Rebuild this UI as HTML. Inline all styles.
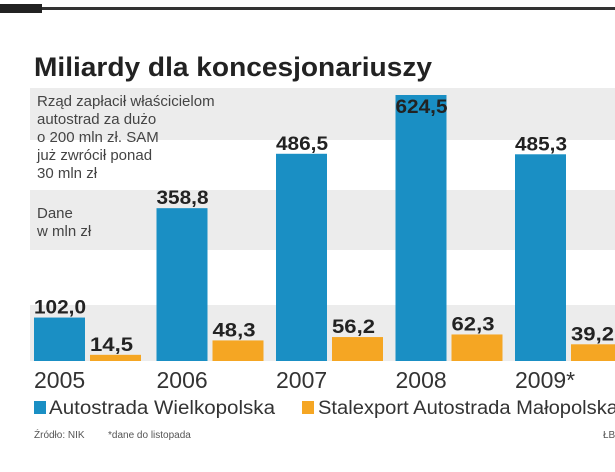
<!DOCTYPE html>
<html><head><meta charset="utf-8"><style>
body{margin:0;background:#fff;width:615px;height:467px;overflow:hidden;font-family:"Liberation Sans",sans-serif}
</style></head><body>
<svg width="615" height="467">
<rect x="0" y="7" width="615" height="3" fill="#333"/>
<rect x="0" y="4" width="42" height="9" fill="#222"/>
<g id="bands"></g>
<text x="34" y="76" font-size="27" font-weight="bold" fill="#222" textLength="398" lengthAdjust="spacingAndGlyphs">Miliardy dla koncesjonariuszy</text>
<g id="bars"></g>
<text x="37" y="106" font-size="15" fill="#444">Rząd zapłacił właścicielom</text>
<text x="37" y="124" font-size="15" fill="#444">autostrad za dużo</text>
<text x="37" y="142" font-size="15" fill="#444">o 200 mln zł. SAM</text>
<text x="37" y="160" font-size="15" fill="#444">już zwrócił ponad</text>
<text x="37" y="178" font-size="15" fill="#444">30 mln zł</text>
<text x="37" y="218" font-size="15" fill="#444">Dane</text>
<text x="37" y="236" font-size="15" fill="#444">w mln zł</text>
<g id="labels"></g>
<rect x="34" y="401" width="12" height="13" fill="#1a8fc4"/>
<text x="49" y="414" font-size="19" fill="#333" textLength="226" lengthAdjust="spacingAndGlyphs">Autostrada Wielkopolska</text>
<rect x="302" y="401" width="12" height="13" fill="#f5a623"/>
<text x="318" y="414" font-size="19" fill="#333" textLength="300" lengthAdjust="spacingAndGlyphs">Stalexport Autostrada Małopolska</text>
<text x="34" y="438" font-size="10" fill="#555">Źródło: NIK</text>
<text x="108" y="438" font-size="10" fill="#555">*dane do listopada</text>
<text x="603" y="438" font-size="10" fill="#555">ŁB</text>
</svg>
<script>
const years=["2005","2006","2007","2008","2009*"];
const awValues=[102.0,358.8,486.5,624.5,485.3];
const samValues=[14.5,48.3,56.2,62.3,39.2];
const valueLabels=["102,0","358,8","486,5","624,5","485,3"];
const samLabels=["14,5","48,3","56,2","62,3","39,2"];
const NS="http://www.w3.org/2000/svg";
const base=361, scale=266/624.5;
const yOf=v=>base-v*scale;
const xOf=i=>i===0?34:37+i*119.5;
function mk(tag,attrs,parent,txt){const e=document.createElementNS(NS,tag);for(const k in attrs)e.setAttribute(k,attrs[k]);if(txt!==undefined)e.textContent=txt;document.getElementById(parent).appendChild(e);return e;}
const bandYs=[[88,140,"#ececec"],[190,250,"#ececec"],[305,361,"#ececec"]];
bandYs.forEach((b,i)=>{const r=mk("rect",{x:30,y:b[0],width:585,height:b[1]-b[0],fill:b[2]},"bands");

});
years.forEach((yr,i)=>{
 const x=xOf(i);
 const b=mk("rect",{x:x,y:yOf(awValues[i]),width:51,height:awValues[i]*scale,fill:"#1a8fc4"},"bars");
 
 
 const o=mk("rect",{x:x+56,y:yOf(samValues[i]),width:51,height:samValues[i]*scale,fill:"#f5a623"},"bars");
 
 
 const ly=Math.max(yOf(awValues[i])-4,113);
 const t=mk("text",{x:x,y:ly,"font-size":19,"font-weight":"bold",fill:"#222",textLength:52,lengthAdjust:"spacingAndGlyphs"},"labels",valueLabels[i]);
 
 
 const s=mk("text",{x:x+56,y:yOf(samValues[i])-4,"font-size":19,"font-weight":"bold",fill:"#222",textLength:43,lengthAdjust:"spacingAndGlyphs"},"labels",samLabels[i]);
 
 
 const yl=mk("text",{x:x,y:388,"font-size":23,fill:"#333"},"labels",yr);
 
 
});
</script>
</body></html>
